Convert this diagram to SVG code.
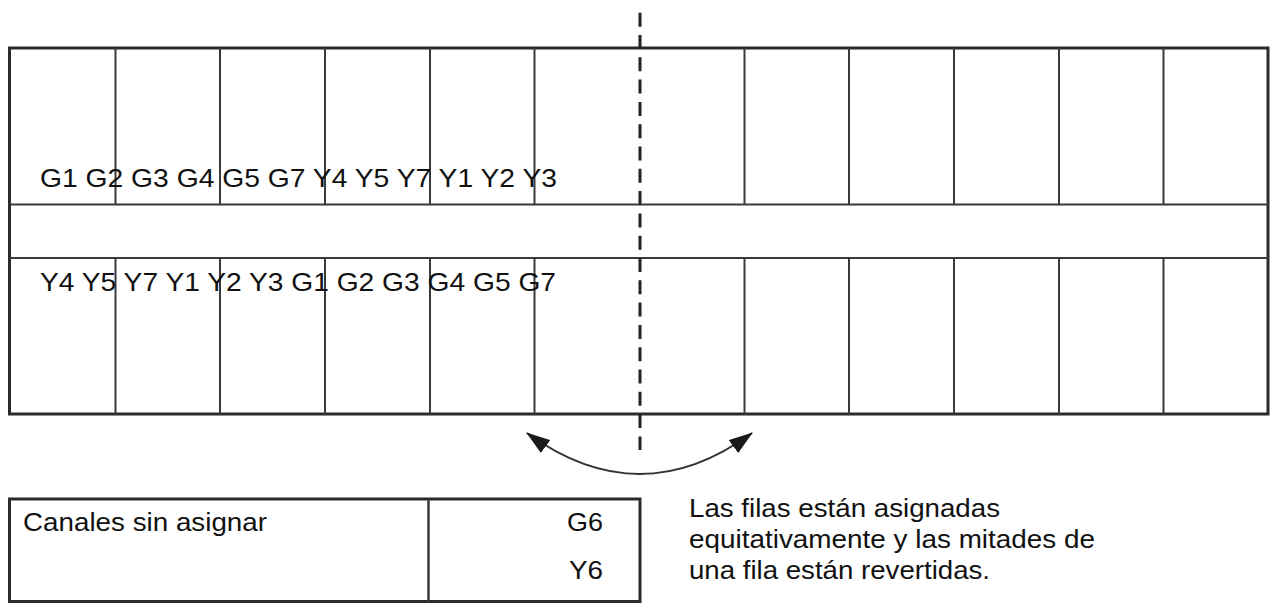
<svg xmlns="http://www.w3.org/2000/svg" width="1273" height="606" viewBox="0 0 1273 606">
<style>
.frame{fill:none;stroke:#2b2b2b;stroke-width:3}
.cell{fill:none;stroke:#3a3a3a;stroke-width:2}
.dash{fill:none;stroke:#222;stroke-width:3;stroke-dasharray:14 8.3}
.arc{fill:none;stroke:#333;stroke-width:2}
.lbl{font-family:"Liberation Sans",Arial,sans-serif;font-size:26px;fill:#111}
.txt{font-family:"Liberation Sans",Arial,sans-serif;font-size:26px;fill:#111}
</style>
<defs>
<marker id="ah" viewBox="0 0 24 16" refX="23" refY="8" markerWidth="24" markerHeight="16" markerUnits="userSpaceOnUse" orient="auto-start-reverse">
<path d="M0,0 L24,8 L0,16 Z" fill="#1a1a1a"/>
</marker>
</defs>
<rect width="1273" height="606" fill="#fff"/>
<g id="grid">
<rect class="frame" x="9.5" y="48" width="1258.5" height="366"/>
<line class="cell" x1="9.5" y1="204.5" x2="1268" y2="204.5"/>
<line class="cell" x1="9.5" y1="258" x2="1268" y2="258"/>
<g id="cols-top">
<line class="cell" x1="115.5" y1="48" x2="115.5" y2="204.5"/>
<line class="cell" x1="220" y1="48" x2="220" y2="204.5"/>
<line class="cell" x1="325" y1="48" x2="325" y2="204.5"/>
<line class="cell" x1="430" y1="48" x2="430" y2="204.5"/>
<line class="cell" x1="534.5" y1="48" x2="534.5" y2="204.5"/>
<line class="cell" x1="744.5" y1="48" x2="744.5" y2="204.5"/>
<line class="cell" x1="849" y1="48" x2="849" y2="204.5"/>
<line class="cell" x1="954" y1="48" x2="954" y2="204.5"/>
<line class="cell" x1="1059" y1="48" x2="1059" y2="204.5"/>
<line class="cell" x1="1163.5" y1="48" x2="1163.5" y2="204.5"/>
</g>
<g id="cols-bottom">
<line class="cell" x1="115.5" y1="258" x2="115.5" y2="414"/>
<line class="cell" x1="220" y1="258" x2="220" y2="414"/>
<line class="cell" x1="325" y1="258" x2="325" y2="414"/>
<line class="cell" x1="430" y1="258" x2="430" y2="414"/>
<line class="cell" x1="534.5" y1="258" x2="534.5" y2="414"/>
<line class="cell" x1="744.5" y1="258" x2="744.5" y2="414"/>
<line class="cell" x1="849" y1="258" x2="849" y2="414"/>
<line class="cell" x1="954" y1="258" x2="954" y2="414"/>
<line class="cell" x1="1059" y1="258" x2="1059" y2="414"/>
<line class="cell" x1="1163.5" y1="258" x2="1163.5" y2="414"/>
</g>
</g>
<g id="row1-label">
<text class="lbl" x="40" y="187" textLength="517" lengthAdjust="spacingAndGlyphs">G1 G2 G3 G4 G5 G7 Y4 Y5 Y7 Y1 Y2 Y3</text>
</g>
<g id="row2-label">
<text class="lbl" x="40" y="291" textLength="516" lengthAdjust="spacingAndGlyphs">Y4 Y5 Y7 Y1 Y2 Y3 G1 G2 G3 G4 G5 G7</text>
</g>
<g id="connectors">
<line class="dash" x1="640" y1="12.7" x2="640" y2="450"/>
<path class="arc" d="M527,433 Q640,515 752,433" marker-start="url(#ah)" marker-end="url(#ah)"/>
</g>
<g id="unassigned">
<rect class="frame" x="9.5" y="499" width="630.5" height="102.5"/>
<line class="cell" x1="428.5" y1="499" x2="428.5" y2="601.5" style="stroke-width:2.5"/>
<text class="txt" x="23" y="531" textLength="244" lengthAdjust="spacingAndGlyphs">Canales sin asignar</text>
<text class="txt" x="567" y="531" textLength="36" lengthAdjust="spacingAndGlyphs">G6</text>
<text class="txt" x="569" y="579" textLength="34" lengthAdjust="spacingAndGlyphs">Y6</text>
</g>
<g id="note">
<text class="txt" x="689" y="517" textLength="311" lengthAdjust="spacingAndGlyphs">Las filas están asignadas</text>
<text class="txt" x="689" y="548" textLength="406" lengthAdjust="spacingAndGlyphs">equitativamente y las mitades de</text>
<text class="txt" x="689" y="579" textLength="301" lengthAdjust="spacingAndGlyphs">una fila están revertidas.</text>
</g>
</svg>
